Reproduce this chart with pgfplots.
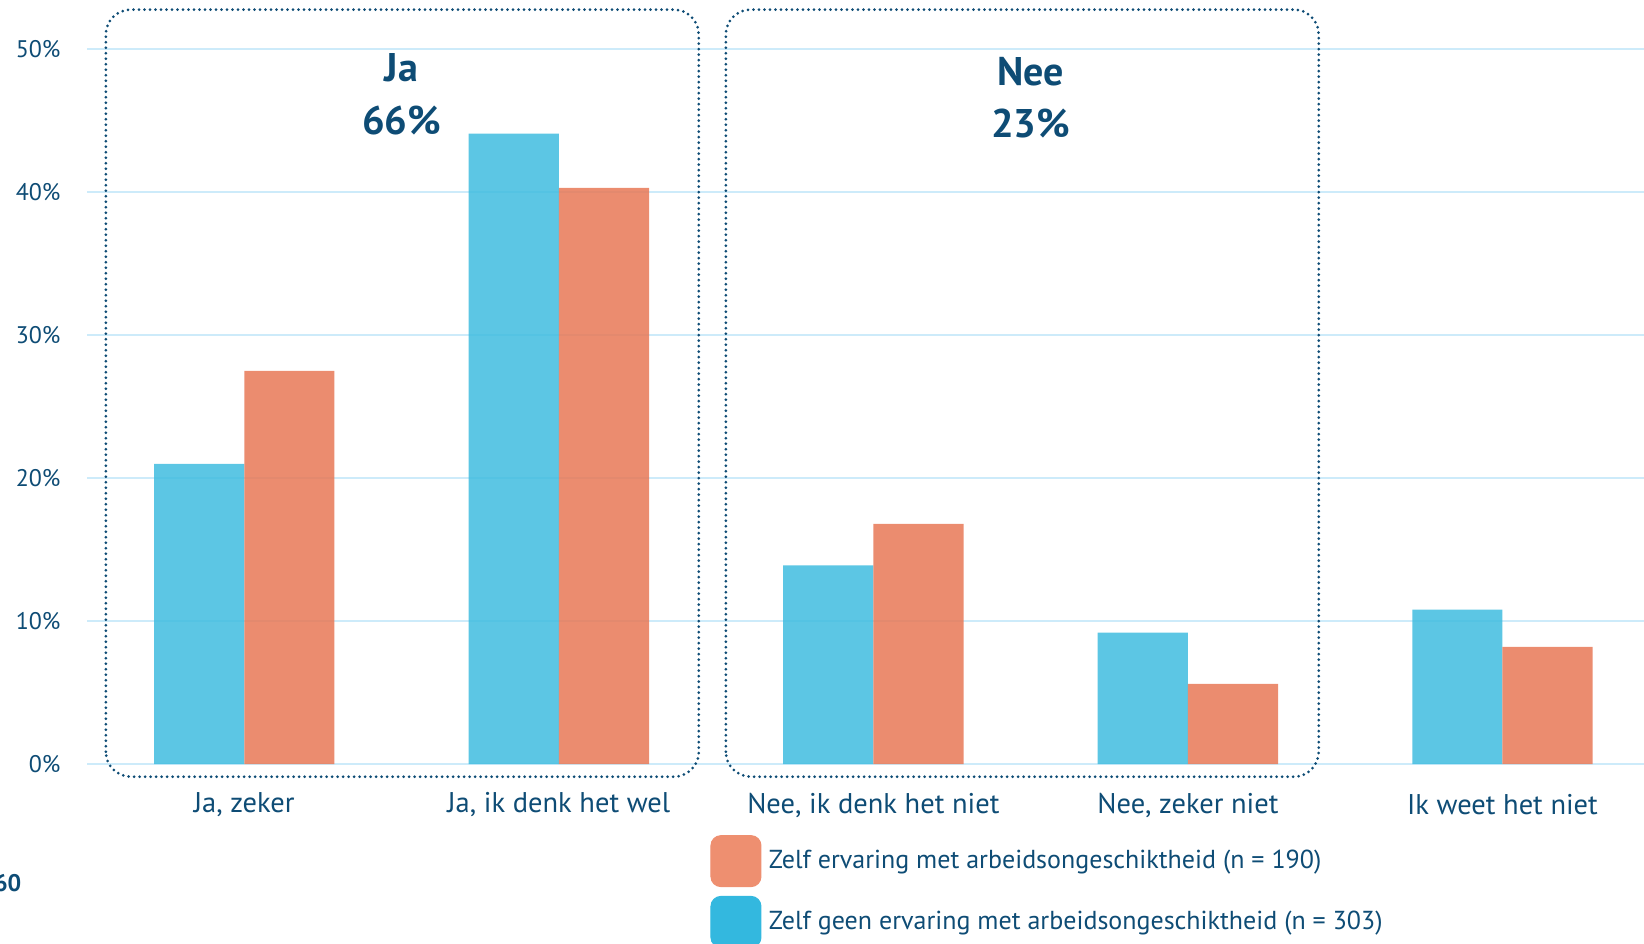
\documentclass[border=0pt]{standalone}
\usepackage{pgfplots}
\pgfplotsset{compat=1.18}
\usepackage{fontspec}
\setmainfont{PT Sans}
\definecolor{txt}{HTML}{0E4C75}
\definecolor{gridc}{HTML}{CDEBFA}
\definecolor{bblue}{HTML}{3FBCDF}
\definecolor{borange}{HTML}{E87856}
\definecolor{lblue}{HTML}{33B8DF}
\definecolor{lorange}{HTML}{EE8F70}
\begin{document}
\begin{tikzpicture}
\useasboundingbox (0,0) rectangle (657.6pt,-377.2pt);
\begin{axis}[
 at={(34.8pt,-305.6pt)}, anchor=south west,
 scale only axis, width=622.8pt, height=285.88pt,
 xmin=-0.5, xmax=4.45, ymin=0, ymax=50,
 ybar=0pt, bar width=36.08pt,
 axis line style={draw=none}, major tick length=0pt,
 ytick={0,10,20,30,40,50},
 yticklabels={0\%,10\%,20\%,30\%,40\%,50\%},
 yticklabel style={anchor=east, inner sep=0pt, xshift=-10.4pt, font=\fontsize{9.6}{11}\selectfont, text=txt},
 ymajorgrids, grid style={gridc, line width=0.8pt},
 xtick={0,1,2,3,4},
 xticklabels={{Ja, zeker},{Ja, ik denk het wel},{Nee, ik denk het niet},{Nee, zeker niet},{Ik weet het niet}},
 xticklabel style={anchor=center, inner sep=0pt, yshift=-16.4pt, font=\fontsize{11.4}{13}\selectfont, text=txt},
 clip=false,
 legend style={at={(0.4001,-0.0988)}, anchor=north west, draw=none, fill=none, inner sep=0pt,
   row sep=3.5pt, font=\fontsize{10.4}{12}\selectfont, text=txt,
   nodes={inner sep=0pt, anchor=west}, column sep=3pt},
 legend cell align=left,
]
\addlegendimage{legend image code/.code={\fill[lorange, rounded corners=4pt] (0pt,-10.2pt) rectangle (20pt,10.2pt);}}
\addlegendentry{Zelf ervaring met arbeidsongeschiktheid (n = 190)}
\addlegendimage{legend image code/.code={\fill[lblue, rounded corners=4pt] (0pt,-10.2pt) rectangle (20pt,10.2pt);}}
\addlegendentry{Zelf geen ervaring met arbeidsongeschiktheid (n = 303)}
\addplot[forget plot, draw=none, fill=bblue, fill opacity=0.85, bar shift=-18.04pt] coordinates {(0,21.0) (1,44.1) (2,13.9) (3,9.2) (4,10.8)};
\addplot[forget plot, draw=none, fill=borange, fill opacity=0.85, bar shift=18.04pt] coordinates {(0,27.5) (1,40.3) (2,16.8) (3,5.6) (4,8.2)};
\draw[txt, line width=1.2pt, dash pattern=on 0pt off 2.2pt, line cap=round, rounded corners=10pt]
  (axis cs:-0.44,-0.89) rectangle (axis cs:1.445,52.78);
\draw[txt, line width=1.2pt, dash pattern=on 0pt off 2.2pt, line cap=round, rounded corners=10pt]
  (axis cs:1.531,-0.89) rectangle (axis cs:3.416,52.78);
\node[font=\bfseries\fontsize{16}{21}\selectfont, text=txt, align=center] at (axis cs:0.5,46.85) {Ja\\66\%};
\node[font=\bfseries\fontsize{16}{21}\selectfont, text=txt, align=center] at (axis cs:2.5,46.63) {Nee\\23\%};
\end{axis}
\node[anchor=east, inner sep=0pt, font=\bfseries\fontsize{9.6}{11}\selectfont, text=txt] at (8.7pt,-353.4pt) {60};
\end{tikzpicture}
\end{document}
